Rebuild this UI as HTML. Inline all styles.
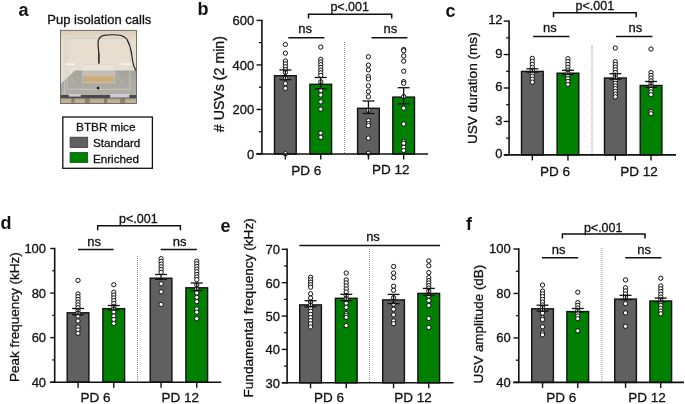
<!DOCTYPE html>
<html><head><meta charset="utf-8"><style>
html,body{margin:0;padding:0;background:#fff;}
svg{display:block;font-family:"Liberation Sans", sans-serif;will-change:transform;}
</style></head><body>
<svg width="685" height="404" viewBox="0 0 685 404">
<rect width="685" height="404" fill="#fff"/>
<line x1="344.5" y1="42" x2="344.5" y2="154" stroke="#777" stroke-width="0.8" stroke-dasharray="1 1"/>
<rect x="274.5" y="75.7" width="21.700000000000003" height="78.3" fill="#606060" stroke="#111" stroke-width="1.4"/>
<rect x="309.9" y="84.3" width="21.700000000000003" height="69.7" fill="#008000" stroke="#111" stroke-width="1.4"/>
<rect x="357.59999999999997" y="108.3" width="21.700000000000003" height="45.7" fill="#606060" stroke="#111" stroke-width="1.4"/>
<rect x="392.8" y="97.10000000000001" width="21.700000000000003" height="56.89999999999999" fill="#008000" stroke="#111" stroke-width="1.4"/>
<circle cx="285.4" cy="44.5" r="2.15" fill="#fff" stroke="#111" stroke-width="1.0"/>
<circle cx="285.4" cy="53.2" r="2.15" fill="#fff" stroke="#111" stroke-width="1.0"/>
<circle cx="285.4" cy="61.0" r="2.15" fill="#fff" stroke="#111" stroke-width="1.0"/>
<circle cx="285.4" cy="63.9" r="2.15" fill="#fff" stroke="#111" stroke-width="1.0"/>
<circle cx="285.4" cy="66.8" r="2.15" fill="#fff" stroke="#111" stroke-width="1.0"/>
<circle cx="285.4" cy="69.6" r="2.15" fill="#fff" stroke="#111" stroke-width="1.0"/>
<circle cx="285.4" cy="72.5" r="2.15" fill="#fff" stroke="#111" stroke-width="1.0"/>
<circle cx="285.4" cy="78.3" r="2.15" fill="#fff" stroke="#111" stroke-width="1.0"/>
<circle cx="285.4" cy="83.5" r="2.15" fill="#fff" stroke="#111" stroke-width="1.0"/>
<circle cx="285.4" cy="88.4" r="2.15" fill="#fff" stroke="#111" stroke-width="1.0"/>
<circle cx="285.4" cy="153.7" r="2.15" fill="#fff" stroke="#111" stroke-width="1.0"/>
<line x1="285.35" y1="70" x2="285.35" y2="79.7" stroke="#111" stroke-width="1.3"/>
<line x1="279.35" y1="70" x2="291.35" y2="70" stroke="#111" stroke-width="1.3"/>
<line x1="279.35" y1="79.7" x2="291.35" y2="79.7" stroke="#111" stroke-width="1.3"/>
<circle cx="320.8" cy="47.1" r="2.15" fill="#fff" stroke="#111" stroke-width="1.0"/>
<circle cx="320.8" cy="59.3" r="2.15" fill="#fff" stroke="#111" stroke-width="1.0"/>
<circle cx="320.8" cy="62.0" r="2.15" fill="#fff" stroke="#111" stroke-width="1.0"/>
<circle cx="320.8" cy="64.7" r="2.15" fill="#fff" stroke="#111" stroke-width="1.0"/>
<circle cx="320.8" cy="67.4" r="2.15" fill="#fff" stroke="#111" stroke-width="1.0"/>
<circle cx="320.8" cy="70.1" r="2.15" fill="#fff" stroke="#111" stroke-width="1.0"/>
<circle cx="320.8" cy="72.8" r="2.15" fill="#fff" stroke="#111" stroke-width="1.0"/>
<circle cx="320.8" cy="75.5" r="2.15" fill="#fff" stroke="#111" stroke-width="1.0"/>
<circle cx="320.8" cy="81.8" r="2.15" fill="#fff" stroke="#111" stroke-width="1.0"/>
<circle cx="320.8" cy="90.5" r="2.15" fill="#fff" stroke="#111" stroke-width="1.0"/>
<circle cx="320.8" cy="95.0" r="2.15" fill="#fff" stroke="#111" stroke-width="1.0"/>
<circle cx="320.8" cy="101.8" r="2.15" fill="#fff" stroke="#111" stroke-width="1.0"/>
<circle cx="320.8" cy="109.2" r="2.15" fill="#fff" stroke="#111" stroke-width="1.0"/>
<circle cx="320.8" cy="133.1" r="2.15" fill="#fff" stroke="#111" stroke-width="1.0"/>
<circle cx="320.8" cy="137.3" r="2.15" fill="#fff" stroke="#111" stroke-width="1.0"/>
<line x1="320.75" y1="77.5" x2="320.75" y2="88.7" stroke="#111" stroke-width="1.3"/>
<line x1="314.75" y1="77.5" x2="326.75" y2="77.5" stroke="#111" stroke-width="1.3"/>
<line x1="314.75" y1="88.7" x2="326.75" y2="88.7" stroke="#111" stroke-width="1.3"/>
<circle cx="368.4" cy="56.8" r="2.15" fill="#fff" stroke="#111" stroke-width="1.0"/>
<circle cx="368.4" cy="65.1" r="2.15" fill="#fff" stroke="#111" stroke-width="1.0"/>
<circle cx="368.4" cy="69.8" r="2.15" fill="#fff" stroke="#111" stroke-width="1.0"/>
<circle cx="368.4" cy="76.4" r="2.15" fill="#fff" stroke="#111" stroke-width="1.0"/>
<circle cx="368.4" cy="79.0" r="2.15" fill="#fff" stroke="#111" stroke-width="1.0"/>
<circle cx="368.4" cy="85.9" r="2.15" fill="#fff" stroke="#111" stroke-width="1.0"/>
<circle cx="368.4" cy="91.6" r="2.15" fill="#fff" stroke="#111" stroke-width="1.0"/>
<circle cx="368.4" cy="96.8" r="2.15" fill="#fff" stroke="#111" stroke-width="1.0"/>
<circle cx="368.4" cy="110.3" r="2.15" fill="#fff" stroke="#111" stroke-width="1.0"/>
<circle cx="368.4" cy="120.7" r="2.15" fill="#fff" stroke="#111" stroke-width="1.0"/>
<circle cx="368.4" cy="123.6" r="2.15" fill="#fff" stroke="#111" stroke-width="1.0"/>
<circle cx="368.4" cy="125.6" r="2.15" fill="#fff" stroke="#111" stroke-width="1.0"/>
<circle cx="368.4" cy="138.1" r="2.15" fill="#fff" stroke="#111" stroke-width="1.0"/>
<circle cx="368.4" cy="153.3" r="2.15" fill="#fff" stroke="#111" stroke-width="1.0"/>
<line x1="368.45" y1="101" x2="368.45" y2="113.5" stroke="#111" stroke-width="1.3"/>
<line x1="362.45" y1="101" x2="374.45" y2="101" stroke="#111" stroke-width="1.3"/>
<line x1="362.45" y1="113.5" x2="374.45" y2="113.5" stroke="#111" stroke-width="1.3"/>
<circle cx="403.7" cy="49.5" r="2.15" fill="#fff" stroke="#111" stroke-width="1.0"/>
<circle cx="403.7" cy="50.7" r="2.15" fill="#fff" stroke="#111" stroke-width="1.0"/>
<circle cx="403.7" cy="55.9" r="2.15" fill="#fff" stroke="#111" stroke-width="1.0"/>
<circle cx="403.7" cy="61.1" r="2.15" fill="#fff" stroke="#111" stroke-width="1.0"/>
<circle cx="403.7" cy="71.2" r="2.15" fill="#fff" stroke="#111" stroke-width="1.0"/>
<circle cx="403.7" cy="81.6" r="2.15" fill="#fff" stroke="#111" stroke-width="1.0"/>
<circle cx="403.7" cy="83.3" r="2.15" fill="#fff" stroke="#111" stroke-width="1.0"/>
<circle cx="403.7" cy="96.6" r="2.15" fill="#fff" stroke="#111" stroke-width="1.0"/>
<circle cx="403.7" cy="108.2" r="2.15" fill="#fff" stroke="#111" stroke-width="1.0"/>
<circle cx="403.7" cy="124.0" r="2.15" fill="#fff" stroke="#111" stroke-width="1.0"/>
<circle cx="403.7" cy="141.7" r="2.15" fill="#fff" stroke="#111" stroke-width="1.0"/>
<circle cx="403.7" cy="143.3" r="2.15" fill="#fff" stroke="#111" stroke-width="1.0"/>
<circle cx="403.7" cy="147.3" r="2.15" fill="#fff" stroke="#111" stroke-width="1.0"/>
<circle cx="403.7" cy="150.5" r="2.15" fill="#fff" stroke="#111" stroke-width="1.0"/>
<line x1="403.65000000000003" y1="87.7" x2="403.65000000000003" y2="103.9" stroke="#111" stroke-width="1.3"/>
<line x1="397.65000000000003" y1="87.7" x2="409.65000000000003" y2="87.7" stroke="#111" stroke-width="1.3"/>
<line x1="397.65000000000003" y1="103.9" x2="409.65000000000003" y2="103.9" stroke="#111" stroke-width="1.3"/>
<line x1="261.9" y1="19.7" x2="261.9" y2="154.7" stroke="#111" stroke-width="1.6"/>
<line x1="256.2" y1="154" x2="428" y2="154" stroke="#111" stroke-width="1.6"/>
<line x1="256.5" y1="154.0" x2="261.9" y2="154.0" stroke="#111" stroke-width="1.4"/>
<text x="254.3" y="158.65" font-size="13" text-anchor="end" font-weight="normal" fill="#111" stroke="#111" stroke-width="0.3">0</text>
<line x1="256.5" y1="109.46666666666667" x2="261.9" y2="109.46666666666667" stroke="#111" stroke-width="1.4"/>
<text x="254.3" y="114.11666666666667" font-size="13" text-anchor="end" font-weight="normal" fill="#111" stroke="#111" stroke-width="0.3">200</text>
<line x1="256.5" y1="64.93333333333334" x2="261.9" y2="64.93333333333334" stroke="#111" stroke-width="1.4"/>
<text x="254.3" y="69.58333333333334" font-size="13" text-anchor="end" font-weight="normal" fill="#111" stroke="#111" stroke-width="0.3">400</text>
<line x1="256.5" y1="20.400000000000006" x2="261.9" y2="20.400000000000006" stroke="#111" stroke-width="1.4"/>
<text x="254.3" y="25.050000000000004" font-size="13" text-anchor="end" font-weight="normal" fill="#111" stroke="#111" stroke-width="0.3">600</text>
<line x1="258.92999999999995" y1="131.73333333333335" x2="261.9" y2="131.73333333333335" stroke="#111" stroke-width="1.3"/>
<line x1="258.92999999999995" y1="87.2" x2="261.9" y2="87.2" stroke="#111" stroke-width="1.3"/>
<line x1="258.92999999999995" y1="42.66666666666667" x2="261.9" y2="42.66666666666667" stroke="#111" stroke-width="1.3"/>
<line x1="285.35" y1="154" x2="285.35" y2="159.5" stroke="#111" stroke-width="1.4"/>
<line x1="320.75" y1="154" x2="320.75" y2="159.5" stroke="#111" stroke-width="1.4"/>
<line x1="368.45" y1="154" x2="368.45" y2="159.5" stroke="#111" stroke-width="1.4"/>
<line x1="403.65000000000003" y1="154" x2="403.65000000000003" y2="159.5" stroke="#111" stroke-width="1.4"/>
<text x="306.2" y="174.6" font-size="13.5" text-anchor="middle" font-weight="normal" fill="#111" stroke="#111" stroke-width="0.3">PD 6</text>
<text x="390.7" y="174.3" font-size="13.5" text-anchor="middle" font-weight="normal" fill="#111" stroke="#111" stroke-width="0.3">PD 12</text>
<text x="224.5" y="84.1" font-size="14.2" text-anchor="middle" font-weight="normal" fill="#111" stroke="#111" stroke-width="0.3" transform="rotate(-90 224.5 84.1)"># USVs (2 min)</text>
<line x1="288.3" y1="37.7" x2="324.4" y2="37.7" stroke="#111" stroke-width="1.5"/>
<text x="305.2" y="33.3" font-size="13" text-anchor="middle" font-weight="normal" fill="#111" stroke="#111" stroke-width="0.3">ns</text>
<line x1="371.5" y1="37.7" x2="407.4" y2="37.7" stroke="#111" stroke-width="1.5"/>
<text x="390.4" y="33.3" font-size="13" text-anchor="middle" font-weight="normal" fill="#111" stroke="#111" stroke-width="0.3">ns</text>
<polyline points="308.5,18.5 308.5,14.2 391.7,14.2 391.7,18.5" fill="none" stroke="#111" stroke-width="1.5"/>
<text x="349.7" y="11" font-size="12.5" text-anchor="middle" font-weight="normal" fill="#111" stroke="#111" stroke-width="0.3">p&lt;.001</text>
<line x1="592" y1="45" x2="592" y2="154.9" stroke="#aaa" stroke-width="1.3" stroke-dasharray="1 1"/>
<rect x="521.5" y="71.4" width="21.700000000000003" height="83.5" fill="#606060" stroke="#111" stroke-width="1.4"/>
<rect x="557.1" y="73.2" width="21.700000000000003" height="81.7" fill="#008000" stroke="#111" stroke-width="1.4"/>
<rect x="604.5" y="78.0" width="21.700000000000003" height="76.9" fill="#606060" stroke="#111" stroke-width="1.4"/>
<rect x="640.2" y="85.5" width="21.700000000000003" height="69.4" fill="#008000" stroke="#111" stroke-width="1.4"/>
<circle cx="532.3" cy="58.4" r="2.15" fill="#fff" stroke="#111" stroke-width="1.0"/>
<circle cx="532.3" cy="61.4" r="2.15" fill="#fff" stroke="#111" stroke-width="1.0"/>
<circle cx="532.3" cy="64.3" r="2.15" fill="#fff" stroke="#111" stroke-width="1.0"/>
<circle cx="532.3" cy="67.3" r="2.15" fill="#fff" stroke="#111" stroke-width="1.0"/>
<circle cx="532.3" cy="70.2" r="2.15" fill="#fff" stroke="#111" stroke-width="1.0"/>
<circle cx="532.3" cy="73.2" r="2.15" fill="#fff" stroke="#111" stroke-width="1.0"/>
<circle cx="532.3" cy="76.2" r="2.15" fill="#fff" stroke="#111" stroke-width="1.0"/>
<circle cx="532.3" cy="79.1" r="2.15" fill="#fff" stroke="#111" stroke-width="1.0"/>
<circle cx="532.3" cy="82.1" r="2.15" fill="#fff" stroke="#111" stroke-width="1.0"/>
<line x1="532.3499999999999" y1="68.8" x2="532.3499999999999" y2="72.2" stroke="#111" stroke-width="1.3"/>
<line x1="526.3499999999999" y1="68.8" x2="538.3499999999999" y2="68.8" stroke="#111" stroke-width="1.3"/>
<line x1="526.3499999999999" y1="72.2" x2="538.3499999999999" y2="72.2" stroke="#111" stroke-width="1.3"/>
<circle cx="567.9" cy="58.7" r="2.15" fill="#fff" stroke="#111" stroke-width="1.0"/>
<circle cx="567.9" cy="61.6" r="2.15" fill="#fff" stroke="#111" stroke-width="1.0"/>
<circle cx="567.9" cy="64.4" r="2.15" fill="#fff" stroke="#111" stroke-width="1.0"/>
<circle cx="567.9" cy="67.3" r="2.15" fill="#fff" stroke="#111" stroke-width="1.0"/>
<circle cx="567.9" cy="70.1" r="2.15" fill="#fff" stroke="#111" stroke-width="1.0"/>
<circle cx="567.9" cy="73.0" r="2.15" fill="#fff" stroke="#111" stroke-width="1.0"/>
<circle cx="567.9" cy="75.8" r="2.15" fill="#fff" stroke="#111" stroke-width="1.0"/>
<circle cx="567.9" cy="78.7" r="2.15" fill="#fff" stroke="#111" stroke-width="1.0"/>
<circle cx="567.9" cy="81.5" r="2.15" fill="#fff" stroke="#111" stroke-width="1.0"/>
<circle cx="567.9" cy="84.4" r="2.15" fill="#fff" stroke="#111" stroke-width="1.0"/>
<line x1="567.9499999999999" y1="70.3" x2="567.9499999999999" y2="74.5" stroke="#111" stroke-width="1.3"/>
<line x1="561.9499999999999" y1="70.3" x2="573.9499999999999" y2="70.3" stroke="#111" stroke-width="1.3"/>
<line x1="561.9499999999999" y1="74.5" x2="573.9499999999999" y2="74.5" stroke="#111" stroke-width="1.3"/>
<circle cx="615.3" cy="48.0" r="2.15" fill="#fff" stroke="#111" stroke-width="1.0"/>
<circle cx="615.3" cy="61.7" r="2.15" fill="#fff" stroke="#111" stroke-width="1.0"/>
<circle cx="615.3" cy="64.4" r="2.15" fill="#fff" stroke="#111" stroke-width="1.0"/>
<circle cx="615.3" cy="67.1" r="2.15" fill="#fff" stroke="#111" stroke-width="1.0"/>
<circle cx="615.3" cy="69.8" r="2.15" fill="#fff" stroke="#111" stroke-width="1.0"/>
<circle cx="615.3" cy="72.5" r="2.15" fill="#fff" stroke="#111" stroke-width="1.0"/>
<circle cx="615.3" cy="75.2" r="2.15" fill="#fff" stroke="#111" stroke-width="1.0"/>
<circle cx="615.3" cy="77.9" r="2.15" fill="#fff" stroke="#111" stroke-width="1.0"/>
<circle cx="615.3" cy="80.6" r="2.15" fill="#fff" stroke="#111" stroke-width="1.0"/>
<circle cx="615.3" cy="83.3" r="2.15" fill="#fff" stroke="#111" stroke-width="1.0"/>
<circle cx="615.3" cy="86.0" r="2.15" fill="#fff" stroke="#111" stroke-width="1.0"/>
<circle cx="615.3" cy="88.7" r="2.15" fill="#fff" stroke="#111" stroke-width="1.0"/>
<circle cx="615.3" cy="91.4" r="2.15" fill="#fff" stroke="#111" stroke-width="1.0"/>
<circle cx="615.3" cy="94.1" r="2.15" fill="#fff" stroke="#111" stroke-width="1.0"/>
<circle cx="615.3" cy="96.8" r="2.15" fill="#fff" stroke="#111" stroke-width="1.0"/>
<line x1="615.3499999999999" y1="73.7" x2="615.3499999999999" y2="79.2" stroke="#111" stroke-width="1.3"/>
<line x1="609.3499999999999" y1="73.7" x2="621.3499999999999" y2="73.7" stroke="#111" stroke-width="1.3"/>
<line x1="609.3499999999999" y1="79.2" x2="621.3499999999999" y2="79.2" stroke="#111" stroke-width="1.3"/>
<circle cx="651.0" cy="49.0" r="2.15" fill="#fff" stroke="#111" stroke-width="1.0"/>
<circle cx="651.0" cy="72.6" r="2.15" fill="#fff" stroke="#111" stroke-width="1.0"/>
<circle cx="651.0" cy="75.4" r="2.15" fill="#fff" stroke="#111" stroke-width="1.0"/>
<circle cx="651.0" cy="78.1" r="2.15" fill="#fff" stroke="#111" stroke-width="1.0"/>
<circle cx="651.0" cy="80.9" r="2.15" fill="#fff" stroke="#111" stroke-width="1.0"/>
<circle cx="651.0" cy="83.7" r="2.15" fill="#fff" stroke="#111" stroke-width="1.0"/>
<circle cx="651.0" cy="86.4" r="2.15" fill="#fff" stroke="#111" stroke-width="1.0"/>
<circle cx="651.0" cy="89.2" r="2.15" fill="#fff" stroke="#111" stroke-width="1.0"/>
<circle cx="651.0" cy="91.9" r="2.15" fill="#fff" stroke="#111" stroke-width="1.0"/>
<circle cx="651.0" cy="94.7" r="2.15" fill="#fff" stroke="#111" stroke-width="1.0"/>
<circle cx="651.0" cy="111.6" r="2.15" fill="#fff" stroke="#111" stroke-width="1.0"/>
<circle cx="651.0" cy="113.7" r="2.15" fill="#fff" stroke="#111" stroke-width="1.0"/>
<line x1="651.05" y1="81.5" x2="651.05" y2="87.4" stroke="#111" stroke-width="1.3"/>
<line x1="645.05" y1="81.5" x2="657.05" y2="81.5" stroke="#111" stroke-width="1.3"/>
<line x1="645.05" y1="87.4" x2="657.05" y2="87.4" stroke="#111" stroke-width="1.3"/>
<line x1="509.1" y1="20.400000000000002" x2="509.1" y2="155.6" stroke="#111" stroke-width="1.6"/>
<line x1="504" y1="154.9" x2="676" y2="154.9" stroke="#111" stroke-width="1.6"/>
<line x1="503.70000000000005" y1="154.9" x2="509.1" y2="154.9" stroke="#111" stroke-width="1.4"/>
<text x="502.6" y="158.05" font-size="13" text-anchor="end" font-weight="normal" fill="#111" stroke="#111" stroke-width="0.3">0</text>
<line x1="503.70000000000005" y1="121.45" x2="509.1" y2="121.45" stroke="#111" stroke-width="1.4"/>
<text x="502.6" y="124.60000000000001" font-size="13" text-anchor="end" font-weight="normal" fill="#111" stroke="#111" stroke-width="0.3">3</text>
<line x1="503.70000000000005" y1="88.0" x2="509.1" y2="88.0" stroke="#111" stroke-width="1.4"/>
<text x="502.6" y="91.15" font-size="13" text-anchor="end" font-weight="normal" fill="#111" stroke="#111" stroke-width="0.3">6</text>
<line x1="503.70000000000005" y1="54.55" x2="509.1" y2="54.55" stroke="#111" stroke-width="1.4"/>
<text x="502.6" y="57.699999999999996" font-size="13" text-anchor="end" font-weight="normal" fill="#111" stroke="#111" stroke-width="0.3">9</text>
<line x1="503.70000000000005" y1="21.099999999999994" x2="509.1" y2="21.099999999999994" stroke="#111" stroke-width="1.4"/>
<text x="502.6" y="24.249999999999993" font-size="13" text-anchor="end" font-weight="normal" fill="#111" stroke="#111" stroke-width="0.3">12</text>
<line x1="506.13" y1="138.175" x2="509.1" y2="138.175" stroke="#111" stroke-width="1.3"/>
<line x1="506.13" y1="104.725" x2="509.1" y2="104.725" stroke="#111" stroke-width="1.3"/>
<line x1="506.13" y1="71.275" x2="509.1" y2="71.275" stroke="#111" stroke-width="1.3"/>
<line x1="506.13" y1="37.82499999999999" x2="509.1" y2="37.82499999999999" stroke="#111" stroke-width="1.3"/>
<line x1="532.3499999999999" y1="154.9" x2="532.3499999999999" y2="160.4" stroke="#111" stroke-width="1.4"/>
<line x1="567.9499999999999" y1="154.9" x2="567.9499999999999" y2="160.4" stroke="#111" stroke-width="1.4"/>
<line x1="615.3499999999999" y1="154.9" x2="615.3499999999999" y2="160.4" stroke="#111" stroke-width="1.4"/>
<line x1="651.05" y1="154.9" x2="651.05" y2="160.4" stroke="#111" stroke-width="1.4"/>
<text x="555.1" y="176.1" font-size="13.5" text-anchor="middle" font-weight="normal" fill="#111" stroke="#111" stroke-width="0.3">PD 6</text>
<text x="639" y="175.8" font-size="13.5" text-anchor="middle" font-weight="normal" fill="#111" stroke="#111" stroke-width="0.3">PD 12</text>
<text x="476.7" y="88.2" font-size="13.6" text-anchor="middle" font-weight="normal" fill="#111" stroke="#111" stroke-width="0.3" transform="rotate(-90 476.7 88.2)">USV duration (ms)</text>
<line x1="533.1" y1="36.6" x2="569.4" y2="36.6" stroke="#111" stroke-width="1.5"/>
<text x="549.9" y="32.4" font-size="13" text-anchor="middle" font-weight="normal" fill="#111" stroke="#111" stroke-width="0.3">ns</text>
<line x1="615.9" y1="36.6" x2="652.4" y2="36.6" stroke="#111" stroke-width="1.5"/>
<text x="635.4" y="32.4" font-size="13" text-anchor="middle" font-weight="normal" fill="#111" stroke="#111" stroke-width="0.3">ns</text>
<polyline points="553.5,17.3 553.5,12.7 636.2,12.7 636.2,17.3" fill="none" stroke="#111" stroke-width="1.5"/>
<text x="594.8" y="9.9" font-size="12.5" text-anchor="middle" font-weight="normal" fill="#111" stroke="#111" stroke-width="0.3">p&lt;.001</text>
<line x1="137.5" y1="256" x2="137.5" y2="382.2" stroke="#777" stroke-width="0.8" stroke-dasharray="1 1"/>
<rect x="67.2" y="312.8" width="21.700000000000003" height="69.39999999999996" fill="#606060" stroke="#111" stroke-width="1.4"/>
<rect x="102.9" y="308.59999999999997" width="21.700000000000003" height="73.60000000000001" fill="#008000" stroke="#111" stroke-width="1.4"/>
<rect x="150.2" y="278.2" width="21.700000000000003" height="103.99999999999999" fill="#606060" stroke="#111" stroke-width="1.4"/>
<rect x="185.89999999999998" y="287.8" width="21.700000000000003" height="94.39999999999996" fill="#008000" stroke="#111" stroke-width="1.4"/>
<circle cx="78.0" cy="280.4" r="2.15" fill="#fff" stroke="#111" stroke-width="1.0"/>
<circle cx="78.0" cy="293.9" r="2.15" fill="#fff" stroke="#111" stroke-width="1.0"/>
<circle cx="78.0" cy="296.7" r="2.15" fill="#fff" stroke="#111" stroke-width="1.0"/>
<circle cx="78.0" cy="299.4" r="2.15" fill="#fff" stroke="#111" stroke-width="1.0"/>
<circle cx="78.0" cy="302.2" r="2.15" fill="#fff" stroke="#111" stroke-width="1.0"/>
<circle cx="78.0" cy="304.9" r="2.15" fill="#fff" stroke="#111" stroke-width="1.0"/>
<circle cx="78.0" cy="307.7" r="2.15" fill="#fff" stroke="#111" stroke-width="1.0"/>
<circle cx="78.0" cy="310.5" r="2.15" fill="#fff" stroke="#111" stroke-width="1.0"/>
<circle cx="78.0" cy="313.2" r="2.15" fill="#fff" stroke="#111" stroke-width="1.0"/>
<circle cx="78.0" cy="316.0" r="2.15" fill="#fff" stroke="#111" stroke-width="1.0"/>
<circle cx="78.0" cy="321.0" r="2.15" fill="#fff" stroke="#111" stroke-width="1.0"/>
<circle cx="78.0" cy="327.0" r="2.15" fill="#fff" stroke="#111" stroke-width="1.0"/>
<circle cx="78.0" cy="330.0" r="2.15" fill="#fff" stroke="#111" stroke-width="1.0"/>
<circle cx="78.0" cy="333.3" r="2.15" fill="#fff" stroke="#111" stroke-width="1.0"/>
<line x1="78.05" y1="308.5" x2="78.05" y2="314.7" stroke="#111" stroke-width="1.3"/>
<line x1="72.05" y1="308.5" x2="84.05" y2="308.5" stroke="#111" stroke-width="1.3"/>
<line x1="72.05" y1="314.7" x2="84.05" y2="314.7" stroke="#111" stroke-width="1.3"/>
<circle cx="113.8" cy="284.7" r="2.15" fill="#fff" stroke="#111" stroke-width="1.0"/>
<circle cx="113.8" cy="292.2" r="2.15" fill="#fff" stroke="#111" stroke-width="1.0"/>
<circle cx="113.8" cy="295.0" r="2.15" fill="#fff" stroke="#111" stroke-width="1.0"/>
<circle cx="113.8" cy="297.9" r="2.15" fill="#fff" stroke="#111" stroke-width="1.0"/>
<circle cx="113.8" cy="300.7" r="2.15" fill="#fff" stroke="#111" stroke-width="1.0"/>
<circle cx="113.8" cy="303.5" r="2.15" fill="#fff" stroke="#111" stroke-width="1.0"/>
<circle cx="113.8" cy="306.3" r="2.15" fill="#fff" stroke="#111" stroke-width="1.0"/>
<circle cx="113.8" cy="309.2" r="2.15" fill="#fff" stroke="#111" stroke-width="1.0"/>
<circle cx="113.8" cy="312.0" r="2.15" fill="#fff" stroke="#111" stroke-width="1.0"/>
<circle cx="113.8" cy="316.0" r="2.15" fill="#fff" stroke="#111" stroke-width="1.0"/>
<circle cx="113.8" cy="319.5" r="2.15" fill="#fff" stroke="#111" stroke-width="1.0"/>
<circle cx="113.8" cy="323.4" r="2.15" fill="#fff" stroke="#111" stroke-width="1.0"/>
<line x1="113.75" y1="305.5" x2="113.75" y2="309.9" stroke="#111" stroke-width="1.3"/>
<line x1="107.75" y1="305.5" x2="119.75" y2="305.5" stroke="#111" stroke-width="1.3"/>
<line x1="107.75" y1="309.9" x2="119.75" y2="309.9" stroke="#111" stroke-width="1.3"/>
<circle cx="161.1" cy="258.7" r="2.15" fill="#fff" stroke="#111" stroke-width="1.0"/>
<circle cx="161.1" cy="261.4" r="2.15" fill="#fff" stroke="#111" stroke-width="1.0"/>
<circle cx="161.1" cy="264.1" r="2.15" fill="#fff" stroke="#111" stroke-width="1.0"/>
<circle cx="161.1" cy="266.9" r="2.15" fill="#fff" stroke="#111" stroke-width="1.0"/>
<circle cx="161.1" cy="269.6" r="2.15" fill="#fff" stroke="#111" stroke-width="1.0"/>
<circle cx="161.1" cy="272.3" r="2.15" fill="#fff" stroke="#111" stroke-width="1.0"/>
<circle cx="161.1" cy="283.8" r="2.15" fill="#fff" stroke="#111" stroke-width="1.0"/>
<circle cx="161.1" cy="291.8" r="2.15" fill="#fff" stroke="#111" stroke-width="1.0"/>
<circle cx="161.1" cy="304.4" r="2.15" fill="#fff" stroke="#111" stroke-width="1.0"/>
<line x1="161.05" y1="274.5" x2="161.05" y2="279.3" stroke="#111" stroke-width="1.3"/>
<line x1="155.05" y1="274.5" x2="167.05" y2="274.5" stroke="#111" stroke-width="1.3"/>
<line x1="155.05" y1="279.3" x2="167.05" y2="279.3" stroke="#111" stroke-width="1.3"/>
<circle cx="196.8" cy="261.1" r="2.15" fill="#fff" stroke="#111" stroke-width="1.0"/>
<circle cx="196.8" cy="263.8" r="2.15" fill="#fff" stroke="#111" stroke-width="1.0"/>
<circle cx="196.8" cy="266.4" r="2.15" fill="#fff" stroke="#111" stroke-width="1.0"/>
<circle cx="196.8" cy="269.1" r="2.15" fill="#fff" stroke="#111" stroke-width="1.0"/>
<circle cx="196.8" cy="271.7" r="2.15" fill="#fff" stroke="#111" stroke-width="1.0"/>
<circle cx="196.8" cy="274.4" r="2.15" fill="#fff" stroke="#111" stroke-width="1.0"/>
<circle cx="196.8" cy="277.0" r="2.15" fill="#fff" stroke="#111" stroke-width="1.0"/>
<circle cx="196.8" cy="279.7" r="2.15" fill="#fff" stroke="#111" stroke-width="1.0"/>
<circle cx="196.8" cy="285.0" r="2.15" fill="#fff" stroke="#111" stroke-width="1.0"/>
<circle cx="196.8" cy="289.0" r="2.15" fill="#fff" stroke="#111" stroke-width="1.0"/>
<circle cx="196.8" cy="293.0" r="2.15" fill="#fff" stroke="#111" stroke-width="1.0"/>
<circle cx="196.8" cy="297.3" r="2.15" fill="#fff" stroke="#111" stroke-width="1.0"/>
<circle cx="196.8" cy="301.6" r="2.15" fill="#fff" stroke="#111" stroke-width="1.0"/>
<circle cx="196.8" cy="309.0" r="2.15" fill="#fff" stroke="#111" stroke-width="1.0"/>
<circle cx="196.8" cy="312.2" r="2.15" fill="#fff" stroke="#111" stroke-width="1.0"/>
<circle cx="196.8" cy="318.7" r="2.15" fill="#fff" stroke="#111" stroke-width="1.0"/>
<line x1="196.75" y1="283" x2="196.75" y2="290.5" stroke="#111" stroke-width="1.3"/>
<line x1="190.75" y1="283" x2="202.75" y2="283" stroke="#111" stroke-width="1.3"/>
<line x1="190.75" y1="290.5" x2="202.75" y2="290.5" stroke="#111" stroke-width="1.3"/>
<line x1="54.7" y1="247.8" x2="54.7" y2="382.9" stroke="#111" stroke-width="1.6"/>
<line x1="50.3" y1="382.2" x2="221.2" y2="382.2" stroke="#111" stroke-width="1.6"/>
<line x1="50.300000000000004" y1="382.2" x2="54.7" y2="382.2" stroke="#111" stroke-width="1.4"/>
<text x="46.1" y="387.04999999999995" font-size="13" text-anchor="end" font-weight="normal" fill="#111" stroke="#111" stroke-width="0.3">40</text>
<line x1="50.300000000000004" y1="337.6333333333333" x2="54.7" y2="337.6333333333333" stroke="#111" stroke-width="1.4"/>
<text x="46.1" y="342.4833333333333" font-size="13" text-anchor="end" font-weight="normal" fill="#111" stroke="#111" stroke-width="0.3">60</text>
<line x1="50.300000000000004" y1="293.06666666666666" x2="54.7" y2="293.06666666666666" stroke="#111" stroke-width="1.4"/>
<text x="46.1" y="297.91666666666663" font-size="13" text-anchor="end" font-weight="normal" fill="#111" stroke="#111" stroke-width="0.3">80</text>
<line x1="50.300000000000004" y1="248.5" x2="54.7" y2="248.5" stroke="#111" stroke-width="1.4"/>
<text x="46.1" y="253.35" font-size="13" text-anchor="end" font-weight="normal" fill="#111" stroke="#111" stroke-width="0.3">100</text>
<line x1="52.28" y1="359.91666666666663" x2="54.7" y2="359.91666666666663" stroke="#111" stroke-width="1.3"/>
<line x1="52.28" y1="315.35" x2="54.7" y2="315.35" stroke="#111" stroke-width="1.3"/>
<line x1="52.28" y1="270.7833333333333" x2="54.7" y2="270.7833333333333" stroke="#111" stroke-width="1.3"/>
<line x1="78.05" y1="382.2" x2="78.05" y2="387.7" stroke="#111" stroke-width="1.4"/>
<line x1="113.75" y1="382.2" x2="113.75" y2="387.7" stroke="#111" stroke-width="1.4"/>
<line x1="161.05" y1="382.2" x2="161.05" y2="387.7" stroke="#111" stroke-width="1.4"/>
<line x1="196.75" y1="382.2" x2="196.75" y2="387.7" stroke="#111" stroke-width="1.4"/>
<text x="95.5" y="402.2" font-size="13.5" text-anchor="middle" font-weight="normal" fill="#111" stroke="#111" stroke-width="0.3">PD 6</text>
<text x="180.2" y="402.2" font-size="13.5" text-anchor="middle" font-weight="normal" fill="#111" stroke="#111" stroke-width="0.3">PD 12</text>
<text x="18.6" y="317.2" font-size="13.5" text-anchor="middle" font-weight="normal" fill="#111" stroke="#111" stroke-width="0.3" transform="rotate(-90 18.6 317.2)">Peak frequency (kHz)</text>
<line x1="78" y1="249.5" x2="113.6" y2="249.5" stroke="#111" stroke-width="1.5"/>
<text x="94.2" y="245.5" font-size="13" text-anchor="middle" font-weight="normal" fill="#111" stroke="#111" stroke-width="0.3">ns</text>
<line x1="160.7" y1="249.5" x2="196.9" y2="249.5" stroke="#111" stroke-width="1.5"/>
<text x="179.6" y="245.5" font-size="13" text-anchor="middle" font-weight="normal" fill="#111" stroke="#111" stroke-width="0.3">ns</text>
<polyline points="97.7,230.2 97.7,225.8 180.4,225.8 180.4,230.2" fill="none" stroke="#111" stroke-width="1.5"/>
<text x="138.3" y="223" font-size="12.5" text-anchor="middle" font-weight="normal" fill="#111" stroke="#111" stroke-width="0.3">p&lt;.001</text>
<line x1="369.5" y1="249" x2="369.5" y2="382.8" stroke="#8a8a8a" stroke-width="0.9" stroke-dasharray="1 1"/>
<rect x="299.7" y="304.9" width="21.700000000000003" height="77.90000000000002" fill="#606060" stroke="#111" stroke-width="1.4"/>
<rect x="335.4" y="298.3" width="21.700000000000003" height="84.49999999999999" fill="#008000" stroke="#111" stroke-width="1.4"/>
<rect x="382.7" y="299.9" width="21.700000000000003" height="82.90000000000002" fill="#606060" stroke="#111" stroke-width="1.4"/>
<rect x="417.9" y="293.4" width="21.700000000000003" height="89.40000000000002" fill="#008000" stroke="#111" stroke-width="1.4"/>
<circle cx="310.6" cy="277.3" r="2.15" fill="#fff" stroke="#111" stroke-width="1.0"/>
<circle cx="310.6" cy="279.8" r="2.15" fill="#fff" stroke="#111" stroke-width="1.0"/>
<circle cx="310.6" cy="282.2" r="2.15" fill="#fff" stroke="#111" stroke-width="1.0"/>
<circle cx="310.6" cy="284.7" r="2.15" fill="#fff" stroke="#111" stroke-width="1.0"/>
<circle cx="310.6" cy="287.2" r="2.15" fill="#fff" stroke="#111" stroke-width="1.0"/>
<circle cx="310.6" cy="293.8" r="2.15" fill="#fff" stroke="#111" stroke-width="1.0"/>
<circle cx="310.6" cy="298.1" r="2.15" fill="#fff" stroke="#111" stroke-width="1.0"/>
<circle cx="310.6" cy="302.0" r="2.15" fill="#fff" stroke="#111" stroke-width="1.0"/>
<circle cx="310.6" cy="305.1" r="2.15" fill="#fff" stroke="#111" stroke-width="1.0"/>
<circle cx="310.6" cy="308.2" r="2.15" fill="#fff" stroke="#111" stroke-width="1.0"/>
<circle cx="310.6" cy="311.3" r="2.15" fill="#fff" stroke="#111" stroke-width="1.0"/>
<circle cx="310.6" cy="314.4" r="2.15" fill="#fff" stroke="#111" stroke-width="1.0"/>
<circle cx="310.6" cy="317.6" r="2.15" fill="#fff" stroke="#111" stroke-width="1.0"/>
<circle cx="310.6" cy="320.7" r="2.15" fill="#fff" stroke="#111" stroke-width="1.0"/>
<circle cx="310.6" cy="323.8" r="2.15" fill="#fff" stroke="#111" stroke-width="1.0"/>
<circle cx="310.6" cy="326.9" r="2.15" fill="#fff" stroke="#111" stroke-width="1.0"/>
<line x1="310.55" y1="300.7" x2="310.55" y2="306.8" stroke="#111" stroke-width="1.3"/>
<line x1="304.55" y1="300.7" x2="316.55" y2="300.7" stroke="#111" stroke-width="1.3"/>
<line x1="304.55" y1="306.8" x2="316.55" y2="306.8" stroke="#111" stroke-width="1.3"/>
<circle cx="346.2" cy="273.0" r="2.15" fill="#fff" stroke="#111" stroke-width="1.0"/>
<circle cx="346.2" cy="279.9" r="2.15" fill="#fff" stroke="#111" stroke-width="1.0"/>
<circle cx="346.2" cy="282.9" r="2.15" fill="#fff" stroke="#111" stroke-width="1.0"/>
<circle cx="346.2" cy="285.9" r="2.15" fill="#fff" stroke="#111" stroke-width="1.0"/>
<circle cx="346.2" cy="289.0" r="2.15" fill="#fff" stroke="#111" stroke-width="1.0"/>
<circle cx="346.2" cy="292.0" r="2.15" fill="#fff" stroke="#111" stroke-width="1.0"/>
<circle cx="346.2" cy="295.5" r="2.15" fill="#fff" stroke="#111" stroke-width="1.0"/>
<circle cx="346.2" cy="299.0" r="2.15" fill="#fff" stroke="#111" stroke-width="1.0"/>
<circle cx="346.2" cy="303.3" r="2.15" fill="#fff" stroke="#111" stroke-width="1.0"/>
<circle cx="346.2" cy="307.3" r="2.15" fill="#fff" stroke="#111" stroke-width="1.0"/>
<circle cx="346.2" cy="313.5" r="2.15" fill="#fff" stroke="#111" stroke-width="1.0"/>
<circle cx="346.2" cy="315.3" r="2.15" fill="#fff" stroke="#111" stroke-width="1.0"/>
<circle cx="346.2" cy="317.3" r="2.15" fill="#fff" stroke="#111" stroke-width="1.0"/>
<circle cx="346.2" cy="325.6" r="2.15" fill="#fff" stroke="#111" stroke-width="1.0"/>
<line x1="346.25" y1="294.3" x2="346.25" y2="300.7" stroke="#111" stroke-width="1.3"/>
<line x1="340.25" y1="294.3" x2="352.25" y2="294.3" stroke="#111" stroke-width="1.3"/>
<line x1="340.25" y1="300.7" x2="352.25" y2="300.7" stroke="#111" stroke-width="1.3"/>
<circle cx="393.6" cy="266.5" r="2.15" fill="#fff" stroke="#111" stroke-width="1.0"/>
<circle cx="393.6" cy="273.0" r="2.15" fill="#fff" stroke="#111" stroke-width="1.0"/>
<circle cx="393.6" cy="277.6" r="2.15" fill="#fff" stroke="#111" stroke-width="1.0"/>
<circle cx="393.6" cy="286.2" r="2.15" fill="#fff" stroke="#111" stroke-width="1.0"/>
<circle cx="393.6" cy="290.3" r="2.15" fill="#fff" stroke="#111" stroke-width="1.0"/>
<circle cx="393.6" cy="297.7" r="2.15" fill="#fff" stroke="#111" stroke-width="1.0"/>
<circle cx="393.6" cy="304.2" r="2.15" fill="#fff" stroke="#111" stroke-width="1.0"/>
<circle cx="393.6" cy="309.2" r="2.15" fill="#fff" stroke="#111" stroke-width="1.0"/>
<circle cx="393.6" cy="314.8" r="2.15" fill="#fff" stroke="#111" stroke-width="1.0"/>
<circle cx="393.6" cy="320.9" r="2.15" fill="#fff" stroke="#111" stroke-width="1.0"/>
<circle cx="393.6" cy="323.7" r="2.15" fill="#fff" stroke="#111" stroke-width="1.0"/>
<line x1="393.55" y1="294.4" x2="393.55" y2="303.6" stroke="#111" stroke-width="1.3"/>
<line x1="387.55" y1="294.4" x2="399.55" y2="294.4" stroke="#111" stroke-width="1.3"/>
<line x1="387.55" y1="303.6" x2="399.55" y2="303.6" stroke="#111" stroke-width="1.3"/>
<circle cx="428.8" cy="260.9" r="2.15" fill="#fff" stroke="#111" stroke-width="1.0"/>
<circle cx="428.8" cy="265.8" r="2.15" fill="#fff" stroke="#111" stroke-width="1.0"/>
<circle cx="428.8" cy="272.6" r="2.15" fill="#fff" stroke="#111" stroke-width="1.0"/>
<circle cx="428.8" cy="277.6" r="2.15" fill="#fff" stroke="#111" stroke-width="1.0"/>
<circle cx="428.8" cy="280.6" r="2.15" fill="#fff" stroke="#111" stroke-width="1.0"/>
<circle cx="428.8" cy="283.0" r="2.15" fill="#fff" stroke="#111" stroke-width="1.0"/>
<circle cx="428.8" cy="285.6" r="2.15" fill="#fff" stroke="#111" stroke-width="1.0"/>
<circle cx="428.8" cy="288.0" r="2.15" fill="#fff" stroke="#111" stroke-width="1.0"/>
<circle cx="428.8" cy="291.2" r="2.15" fill="#fff" stroke="#111" stroke-width="1.0"/>
<circle cx="428.8" cy="296.0" r="2.15" fill="#fff" stroke="#111" stroke-width="1.0"/>
<circle cx="428.8" cy="300.5" r="2.15" fill="#fff" stroke="#111" stroke-width="1.0"/>
<circle cx="428.8" cy="305.5" r="2.15" fill="#fff" stroke="#111" stroke-width="1.0"/>
<circle cx="428.8" cy="318.5" r="2.15" fill="#fff" stroke="#111" stroke-width="1.0"/>
<circle cx="428.8" cy="327.4" r="2.15" fill="#fff" stroke="#111" stroke-width="1.0"/>
<line x1="428.75" y1="288.4" x2="428.75" y2="295.5" stroke="#111" stroke-width="1.3"/>
<line x1="422.75" y1="288.4" x2="434.75" y2="288.4" stroke="#111" stroke-width="1.3"/>
<line x1="422.75" y1="295.5" x2="434.75" y2="295.5" stroke="#111" stroke-width="1.3"/>
<line x1="287.1" y1="248.60000000000002" x2="287.1" y2="383.5" stroke="#111" stroke-width="1.6"/>
<line x1="282" y1="382.8" x2="453.6" y2="382.8" stroke="#111" stroke-width="1.6"/>
<line x1="281.70000000000005" y1="382.8" x2="287.1" y2="382.8" stroke="#111" stroke-width="1.4"/>
<text x="279.9" y="387.75" font-size="13" text-anchor="end" font-weight="normal" fill="#111" stroke="#111" stroke-width="0.3">30</text>
<line x1="281.70000000000005" y1="349.425" x2="287.1" y2="349.425" stroke="#111" stroke-width="1.4"/>
<text x="279.9" y="354.375" font-size="13" text-anchor="end" font-weight="normal" fill="#111" stroke="#111" stroke-width="0.3">40</text>
<line x1="281.70000000000005" y1="316.05" x2="287.1" y2="316.05" stroke="#111" stroke-width="1.4"/>
<text x="279.9" y="321.0" font-size="13" text-anchor="end" font-weight="normal" fill="#111" stroke="#111" stroke-width="0.3">50</text>
<line x1="281.70000000000005" y1="282.675" x2="287.1" y2="282.675" stroke="#111" stroke-width="1.4"/>
<text x="279.9" y="287.625" font-size="13" text-anchor="end" font-weight="normal" fill="#111" stroke="#111" stroke-width="0.3">60</text>
<line x1="281.70000000000005" y1="249.3" x2="287.1" y2="249.3" stroke="#111" stroke-width="1.4"/>
<text x="279.9" y="254.25000000000003" font-size="13" text-anchor="end" font-weight="normal" fill="#111" stroke="#111" stroke-width="0.3">70</text>
<line x1="284.13" y1="366.1125" x2="287.1" y2="366.1125" stroke="#111" stroke-width="1.3"/>
<line x1="284.13" y1="332.7375" x2="287.1" y2="332.7375" stroke="#111" stroke-width="1.3"/>
<line x1="284.13" y1="299.3625" x2="287.1" y2="299.3625" stroke="#111" stroke-width="1.3"/>
<line x1="284.13" y1="265.9875" x2="287.1" y2="265.9875" stroke="#111" stroke-width="1.3"/>
<line x1="310.55" y1="382.8" x2="310.55" y2="388.3" stroke="#111" stroke-width="1.4"/>
<line x1="346.25" y1="382.8" x2="346.25" y2="388.3" stroke="#111" stroke-width="1.4"/>
<line x1="393.55" y1="382.8" x2="393.55" y2="388.3" stroke="#111" stroke-width="1.4"/>
<line x1="428.75" y1="382.8" x2="428.75" y2="388.3" stroke="#111" stroke-width="1.4"/>
<text x="329" y="402.4" font-size="13.5" text-anchor="middle" font-weight="normal" fill="#111" stroke="#111" stroke-width="0.3">PD 6</text>
<text x="413.1" y="402.4" font-size="13.5" text-anchor="middle" font-weight="normal" fill="#111" stroke="#111" stroke-width="0.3">PD 12</text>
<text x="253.0" y="307.9" font-size="13.62" text-anchor="middle" font-weight="normal" fill="#111" stroke="#111" stroke-width="0.3" transform="rotate(-90 253.0 307.9)">Fundamental frequency (kHz)</text>
<line x1="299.4" y1="245.6" x2="440.1" y2="245.6" stroke="#111" stroke-width="1.5"/>
<text x="373" y="241.1" font-size="13" text-anchor="middle" font-weight="normal" fill="#111" stroke="#111" stroke-width="0.3">ns</text>
<line x1="601.8" y1="248" x2="601.8" y2="382.4" stroke="#aaa" stroke-width="1.3" stroke-dasharray="1 1"/>
<rect x="531.7" y="308.8" width="21.700000000000003" height="73.59999999999995" fill="#606060" stroke="#111" stroke-width="1.4"/>
<rect x="566.9000000000001" y="311.59999999999997" width="21.700000000000003" height="70.8" fill="#008000" stroke="#111" stroke-width="1.4"/>
<rect x="614.7" y="299.09999999999997" width="21.700000000000003" height="83.3" fill="#606060" stroke="#111" stroke-width="1.4"/>
<rect x="649.9000000000001" y="301.0" width="21.700000000000003" height="81.39999999999996" fill="#008000" stroke="#111" stroke-width="1.4"/>
<circle cx="542.5" cy="285.1" r="2.15" fill="#fff" stroke="#111" stroke-width="1.0"/>
<circle cx="542.5" cy="291.1" r="2.15" fill="#fff" stroke="#111" stroke-width="1.0"/>
<circle cx="542.5" cy="293.9" r="2.15" fill="#fff" stroke="#111" stroke-width="1.0"/>
<circle cx="542.5" cy="296.6" r="2.15" fill="#fff" stroke="#111" stroke-width="1.0"/>
<circle cx="542.5" cy="299.4" r="2.15" fill="#fff" stroke="#111" stroke-width="1.0"/>
<circle cx="542.5" cy="302.1" r="2.15" fill="#fff" stroke="#111" stroke-width="1.0"/>
<circle cx="542.5" cy="304.9" r="2.15" fill="#fff" stroke="#111" stroke-width="1.0"/>
<circle cx="542.5" cy="307.6" r="2.15" fill="#fff" stroke="#111" stroke-width="1.0"/>
<circle cx="542.5" cy="310.4" r="2.15" fill="#fff" stroke="#111" stroke-width="1.0"/>
<circle cx="542.5" cy="313.1" r="2.15" fill="#fff" stroke="#111" stroke-width="1.0"/>
<circle cx="542.5" cy="317.8" r="2.15" fill="#fff" stroke="#111" stroke-width="1.0"/>
<circle cx="542.5" cy="319.5" r="2.15" fill="#fff" stroke="#111" stroke-width="1.0"/>
<circle cx="542.5" cy="326.8" r="2.15" fill="#fff" stroke="#111" stroke-width="1.0"/>
<circle cx="542.5" cy="333.0" r="2.15" fill="#fff" stroke="#111" stroke-width="1.0"/>
<circle cx="542.5" cy="334.8" r="2.15" fill="#fff" stroke="#111" stroke-width="1.0"/>
<line x1="542.55" y1="305.2" x2="542.55" y2="311.1" stroke="#111" stroke-width="1.3"/>
<line x1="536.55" y1="305.2" x2="548.55" y2="305.2" stroke="#111" stroke-width="1.3"/>
<line x1="536.55" y1="311.1" x2="548.55" y2="311.1" stroke="#111" stroke-width="1.3"/>
<circle cx="577.8" cy="292.2" r="2.15" fill="#fff" stroke="#111" stroke-width="1.0"/>
<circle cx="577.8" cy="302.6" r="2.15" fill="#fff" stroke="#111" stroke-width="1.0"/>
<circle cx="577.8" cy="305.3" r="2.15" fill="#fff" stroke="#111" stroke-width="1.0"/>
<circle cx="577.8" cy="308.0" r="2.15" fill="#fff" stroke="#111" stroke-width="1.0"/>
<circle cx="577.8" cy="310.6" r="2.15" fill="#fff" stroke="#111" stroke-width="1.0"/>
<circle cx="577.8" cy="313.3" r="2.15" fill="#fff" stroke="#111" stroke-width="1.0"/>
<circle cx="577.8" cy="316.0" r="2.15" fill="#fff" stroke="#111" stroke-width="1.0"/>
<circle cx="577.8" cy="318.7" r="2.15" fill="#fff" stroke="#111" stroke-width="1.0"/>
<circle cx="577.8" cy="330.8" r="2.15" fill="#fff" stroke="#111" stroke-width="1.0"/>
<line x1="577.75" y1="308.5" x2="577.75" y2="311.9" stroke="#111" stroke-width="1.3"/>
<line x1="571.75" y1="308.5" x2="583.75" y2="308.5" stroke="#111" stroke-width="1.3"/>
<line x1="571.75" y1="311.9" x2="583.75" y2="311.9" stroke="#111" stroke-width="1.3"/>
<circle cx="625.5" cy="279.9" r="2.15" fill="#fff" stroke="#111" stroke-width="1.0"/>
<circle cx="625.5" cy="287.8" r="2.15" fill="#fff" stroke="#111" stroke-width="1.0"/>
<circle cx="625.5" cy="290.9" r="2.15" fill="#fff" stroke="#111" stroke-width="1.0"/>
<circle cx="625.5" cy="294.0" r="2.15" fill="#fff" stroke="#111" stroke-width="1.0"/>
<circle cx="625.5" cy="297.1" r="2.15" fill="#fff" stroke="#111" stroke-width="1.0"/>
<circle cx="625.5" cy="303.6" r="2.15" fill="#fff" stroke="#111" stroke-width="1.0"/>
<circle cx="625.5" cy="312.9" r="2.15" fill="#fff" stroke="#111" stroke-width="1.0"/>
<circle cx="625.5" cy="326.3" r="2.15" fill="#fff" stroke="#111" stroke-width="1.0"/>
<line x1="625.55" y1="295.3" x2="625.55" y2="299.6" stroke="#111" stroke-width="1.3"/>
<line x1="619.55" y1="295.3" x2="631.55" y2="295.3" stroke="#111" stroke-width="1.3"/>
<line x1="619.55" y1="299.6" x2="631.55" y2="299.6" stroke="#111" stroke-width="1.3"/>
<circle cx="660.8" cy="278.2" r="2.15" fill="#fff" stroke="#111" stroke-width="1.0"/>
<circle cx="660.8" cy="286.0" r="2.15" fill="#fff" stroke="#111" stroke-width="1.0"/>
<circle cx="660.8" cy="288.8" r="2.15" fill="#fff" stroke="#111" stroke-width="1.0"/>
<circle cx="660.8" cy="291.6" r="2.15" fill="#fff" stroke="#111" stroke-width="1.0"/>
<circle cx="660.8" cy="294.3" r="2.15" fill="#fff" stroke="#111" stroke-width="1.0"/>
<circle cx="660.8" cy="297.1" r="2.15" fill="#fff" stroke="#111" stroke-width="1.0"/>
<circle cx="660.8" cy="299.9" r="2.15" fill="#fff" stroke="#111" stroke-width="1.0"/>
<circle cx="660.8" cy="302.7" r="2.15" fill="#fff" stroke="#111" stroke-width="1.0"/>
<circle cx="660.8" cy="305.5" r="2.15" fill="#fff" stroke="#111" stroke-width="1.0"/>
<circle cx="660.8" cy="308.2" r="2.15" fill="#fff" stroke="#111" stroke-width="1.0"/>
<circle cx="660.8" cy="311.0" r="2.15" fill="#fff" stroke="#111" stroke-width="1.0"/>
<circle cx="660.8" cy="313.8" r="2.15" fill="#fff" stroke="#111" stroke-width="1.0"/>
<line x1="660.75" y1="298.1" x2="660.75" y2="301.8" stroke="#111" stroke-width="1.3"/>
<line x1="654.75" y1="298.1" x2="666.75" y2="298.1" stroke="#111" stroke-width="1.3"/>
<line x1="654.75" y1="301.8" x2="666.75" y2="301.8" stroke="#111" stroke-width="1.3"/>
<line x1="518.8" y1="248.3" x2="518.8" y2="383.09999999999997" stroke="#111" stroke-width="1.6"/>
<line x1="513.4" y1="382.4" x2="683.9" y2="382.4" stroke="#111" stroke-width="1.6"/>
<line x1="513.4" y1="382.4" x2="518.8" y2="382.4" stroke="#111" stroke-width="1.4"/>
<text x="510.8" y="386.74999999999994" font-size="13" text-anchor="end" font-weight="normal" fill="#111" stroke="#111" stroke-width="0.3">40</text>
<line x1="513.4" y1="337.93333333333334" x2="518.8" y2="337.93333333333334" stroke="#111" stroke-width="1.4"/>
<text x="510.8" y="342.2833333333333" font-size="13" text-anchor="end" font-weight="normal" fill="#111" stroke="#111" stroke-width="0.3">60</text>
<line x1="513.4" y1="293.4666666666667" x2="518.8" y2="293.4666666666667" stroke="#111" stroke-width="1.4"/>
<text x="510.8" y="297.81666666666666" font-size="13" text-anchor="end" font-weight="normal" fill="#111" stroke="#111" stroke-width="0.3">80</text>
<line x1="513.4" y1="249.0" x2="518.8" y2="249.0" stroke="#111" stroke-width="1.4"/>
<text x="510.8" y="253.35" font-size="13" text-anchor="end" font-weight="normal" fill="#111" stroke="#111" stroke-width="0.3">100</text>
<line x1="515.8299999999999" y1="360.16666666666663" x2="518.8" y2="360.16666666666663" stroke="#111" stroke-width="1.3"/>
<line x1="515.8299999999999" y1="315.7" x2="518.8" y2="315.7" stroke="#111" stroke-width="1.3"/>
<line x1="515.8299999999999" y1="271.23333333333335" x2="518.8" y2="271.23333333333335" stroke="#111" stroke-width="1.3"/>
<line x1="542.55" y1="382.4" x2="542.55" y2="387.9" stroke="#111" stroke-width="1.4"/>
<line x1="577.75" y1="382.4" x2="577.75" y2="387.9" stroke="#111" stroke-width="1.4"/>
<line x1="625.55" y1="382.4" x2="625.55" y2="387.9" stroke="#111" stroke-width="1.4"/>
<line x1="660.75" y1="382.4" x2="660.75" y2="387.9" stroke="#111" stroke-width="1.4"/>
<text x="561.2" y="402.2" font-size="13.5" text-anchor="middle" font-weight="normal" fill="#111" stroke="#111" stroke-width="0.3">PD 6</text>
<text x="647.1" y="402.2" font-size="13.5" text-anchor="middle" font-weight="normal" fill="#111" stroke="#111" stroke-width="0.3">PD 12</text>
<text x="483" y="324.1" font-size="13.45" text-anchor="middle" font-weight="normal" fill="#111" stroke="#111" stroke-width="0.3" transform="rotate(-90 483 324.1)">USV amplitude (dB)</text>
<line x1="542" y1="257.7" x2="578.2" y2="257.7" stroke="#111" stroke-width="1.5"/>
<text x="558.7" y="253.8" font-size="13" text-anchor="middle" font-weight="normal" fill="#111" stroke="#111" stroke-width="0.3">ns</text>
<line x1="625.2" y1="257.7" x2="661.4" y2="257.7" stroke="#111" stroke-width="1.5"/>
<text x="644.1" y="253.8" font-size="13" text-anchor="middle" font-weight="normal" fill="#111" stroke="#111" stroke-width="0.3">ns</text>
<polyline points="562.4,238.5 562.4,234.1 645,234.1 645,238.5" fill="none" stroke="#111" stroke-width="1.5"/>
<text x="603.2" y="231.5" font-size="12.5" text-anchor="middle" font-weight="normal" fill="#111" stroke="#111" stroke-width="0.3">p&lt;.001</text>
<text x="18.4" y="16.3" font-size="18" text-anchor="start" font-weight="bold" fill="#111" stroke="#111" stroke-width="0">a</text>
<text x="197.6" y="14.8" font-size="18" text-anchor="start" font-weight="bold" fill="#111" stroke="#111" stroke-width="0">b</text>
<text x="445.6" y="16.7" font-size="18" text-anchor="start" font-weight="bold" fill="#111" stroke="#111" stroke-width="0">c</text>
<text x="0.5" y="228.9" font-size="18" text-anchor="start" font-weight="bold" fill="#111" stroke="#111" stroke-width="0">d</text>
<text x="220.6" y="231.5" font-size="18" text-anchor="start" font-weight="bold" fill="#111" stroke="#111" stroke-width="0">e</text>
<text x="466" y="229.7" font-size="18" text-anchor="start" font-weight="bold" fill="#111" stroke="#111" stroke-width="0">f</text>
<text x="99.3" y="23.8" font-size="13" text-anchor="middle" font-weight="normal" fill="#111" stroke="#111" stroke-width="0.3">Pup isolation calls</text>

<defs>
 <linearGradient id="wall" x1="0" y1="0" x2="0" y2="1">
  <stop offset="0" stop-color="#d9ccb6"/>
  <stop offset="0.12" stop-color="#e6ddcf"/>
  <stop offset="1" stop-color="#e9e1d4"/>
 </linearGradient>
 <linearGradient id="tbl" x1="0" y1="0" x2="0" y2="1">
  <stop offset="0" stop-color="#a5a39d"/>
  <stop offset="1" stop-color="#b2aea6"/>
 </linearGradient>
 <filter id="soft" x="-5%" y="-5%" width="110%" height="110%"><feGaussianBlur stdDeviation="0.45"/></filter>
 <clipPath id="pc"><rect x="60.5" y="30.3" width="76" height="73.2"/></clipPath>
</defs>
<g clip-path="url(#pc)" filter="url(#soft)">
 <rect x="60" y="30" width="77" height="74" fill="url(#wall)"/>
 <polygon points="75,70.5 137,70.5 137,95 60,95 60,84.5" fill="url(#tbl)"/>
 <rect x="60" y="95" width="77" height="3" fill="#474a4d"/>
 <rect x="60" y="98" width="77" height="6" fill="#bfb093"/>
 <rect x="71.5" y="98" width="3" height="6" fill="#8e7f66"/>
 <rect x="85" y="98" width="4.8" height="6" fill="#8e7f66"/>
 <rect x="104" y="98" width="3.2" height="6" fill="#8e7f66"/>
 <rect x="120.3" y="98" width="4.8" height="6" fill="#8e7f66"/>
 <rect x="60" y="98" width="77" height="1.2" fill="#6f6a60" opacity="0.6"/>
 <rect x="82.8" y="64.8" width="32" height="10.4" fill="#f2efe9" opacity="0.35"/>
 <polygon points="83.6,75 114,75 113,82.8 84.8,82.8" fill="#ccab7c"/>
 <rect x="83.6" y="75" width="30.4" height="1.2" fill="#d8c09a"/>
 <rect x="82.8" y="64.8" width="32" height="18" fill="none" stroke="#d9d4cb" stroke-width="0.6"/>
 <polyline points="67,38.4 67,89.3 129.9,89.3 129.9,38.4 67,38.4" fill="none" stroke="#cfcfcb" stroke-width="0.7"/>
 <line x1="64.6" y1="38.4" x2="132" y2="38.4" stroke="#cfcfcb" stroke-width="0.7"/>
 <line x1="64.6" y1="38.4" x2="64.6" y2="94" stroke="#d4d4d0" stroke-width="0.6"/>
 <line x1="67" y1="70.5" x2="75" y2="84" stroke="#c6c6c2" stroke-width="0.5"/>
 <line x1="114.5" y1="70.5" x2="122" y2="83" stroke="#c6c6c2" stroke-width="0.5"/>
 <rect x="65.8" y="63.3" width="9" height="1.8" fill="#f7f5f1"/>
 <rect x="121.5" y="63.3" width="9.5" height="1.8" fill="#f7f5f1"/>
 <rect x="68.8" y="94.2" width="12" height="2.4" fill="#cfcfcf"/>
 <rect x="110.1" y="94" width="19.2" height="3.6" fill="#c9ccd0"/>
 <circle cx="98.1" cy="88.1" r="1.3" fill="#111"/>
 <path d="M98.8,63.4 L98.8,53 C98.4,48 97.8,44 98.2,41 C99,37.5 101.5,35.8 104,35.4 C108,34.7 113,34.5 118,35 C122,35.5 125,36.5 127,39.5 C129.5,44 131,49 131.8,55 C132.3,59 132.8,63 134,66.5 C134.8,68.5 135.6,70 137,72" fill="none" stroke="#1e1e1e" stroke-width="1.15"/>
 <line x1="98.8" y1="53" x2="98.8" y2="63.4" stroke="#333" stroke-width="1.4"/>
</g>
<rect x="60.5" y="30.3" width="76" height="73.2" fill="none" stroke="#555" stroke-width="0.8"/>

<rect x="62.8" y="117" width="89.6" height="51.3" fill="#fff" stroke="#111" stroke-width="1.3"/>
<text x="105.8" y="130.8" font-size="11.75" text-anchor="middle" font-weight="normal" fill="#111" stroke="#111" stroke-width="0.3">BTBR mice</text>
<rect x="70.1" y="137.2" width="17.6" height="10.3" fill="#606060" stroke="#3a3a3a" stroke-width="0.8"/>
<rect x="70.1" y="152.6" width="17.6" height="9.8" fill="#008000" stroke="#0a4a0a" stroke-width="0.8"/>
<text x="92.9" y="147" font-size="11.7" text-anchor="start" font-weight="normal" fill="#111" stroke="#111" stroke-width="0.3">Standard</text>
<text x="92.9" y="163" font-size="11.7" text-anchor="start" font-weight="normal" fill="#111" stroke="#111" stroke-width="0.3">Enriched</text>
</svg></body></html>
